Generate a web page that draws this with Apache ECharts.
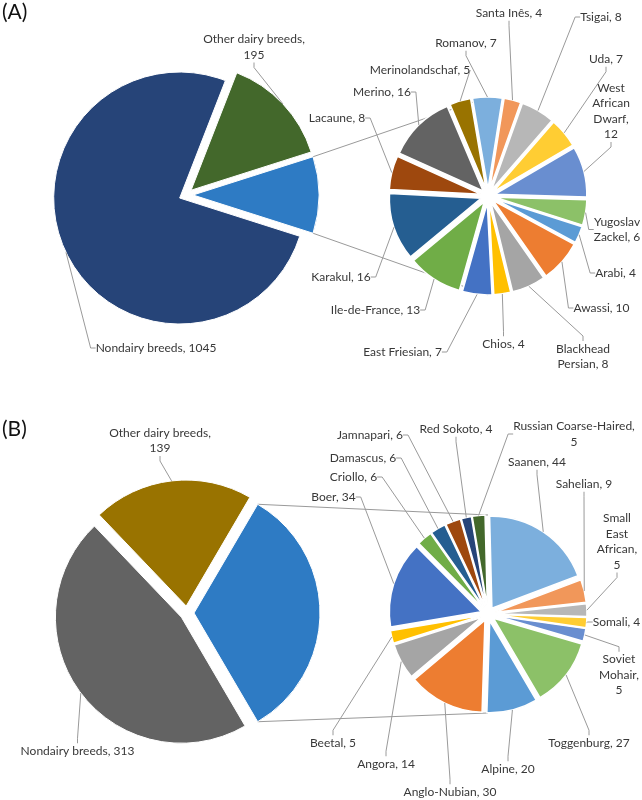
<!DOCTYPE html>
<html><head><meta charset="utf-8">
<script src="https://cdn.jsdelivr.net/npm/echarts@6/dist/echarts.min.js"></script>
<style>html,body{margin:0;padding:0;background:#fff}#c{width:642px;height:800px}</style>
</head><body><div id="c"></div>
<script>
// ---------------- DATA ----------------
// Panel (A)
const mainCatsA = ['Other dairy breeds', 'Selected dairy breeds', 'Nondairy breeds'];
const otherDairyA = 195;
const nondairyA = 1045;
const breedsA = ['Arabi', 'Awassi', 'Blackhead Persian', 'Chios', 'East Friesian', 'Ile-de-France', 'Karakul', 'Lacaune', 'Merino', 'Merinolandschaf', 'Romanov', 'Santa Inês', 'Tsigai', 'Uda', 'West African Dwarf', 'Yugoslav Zackel'];
const countsA = [4, 10, 8, 4, 7, 13, 16, 8, 16, 5, 7, 4, 8, 7, 12, 6];
// Panel (B)
const mainCatsB = ['Other dairy breeds', 'Selected dairy breeds', 'Nondairy breeds'];
const otherDairyB = 139;
const nondairyB = 313;
const breedsB = ['Alpine', 'Anglo-Nubian', 'Angora', 'Beetal', 'Boer', 'Criollo', 'Damascus', 'Jamnapari', 'Red Sokoto', 'Russian Coarse-Haired', 'Saanen', 'Sahelian', 'Small East African', 'Somali', 'Soviet Mohair', 'Toggenburg'];
const countsB = [20, 30, 14, 5, 34, 6, 6, 6, 4, 5, 44, 9, 5, 4, 5, 27];

// ---------------- STYLE / LAYOUT ----------------
const mainColorsA = ['#43682B', '#2E7BC4', '#264478'];
const smallColorsA = ['#5B9BD5', '#ED7D31', '#A5A5A5', '#FFC000', '#4472C4', '#70AD47', '#255E91', '#9E480E', '#636363', '#997300', '#7CAFDD', '#F1975A', '#B7B7B7', '#FFCD33', '#698ED0', '#8CC168'];
const mainColorsB = ['#997300', '#2E7BC4', '#636363'];
const smallColorsB = ['#5B9BD5', '#ED7D31', '#A5A5A5', '#FFC000', '#4472C4', '#70AD47', '#255E91', '#9E480E', '#264478', '#43682B', '#7CAFDD', '#F1975A', '#B7B7B7', '#FFCD33', '#698ED0', '#8CC168'];

// label text wrapping (text templates)
const wraps = {
  'Other dairy breeds': 'Other dairy breeds,\n{v}',
  'West African Dwarf': 'West\nAfrican\nDwarf,\n{v}',
  'Yugoslav Zackel': 'Yugoslav\nZackel, {v}',
  'Blackhead Persian': 'Blackhead\nPersian, {v}',
  'Russian Coarse-Haired': 'Russian Coarse-Haired,\n{v}',
  'Small East African': 'Small\nEast\nAfrican,\n{v}',
  'Soviet Mohair': 'Soviet\nMohair,\n{v}'
};

// label placement: offset of the text centre from the pie centre
const labelOffsetMainA = { 'Other dairy breeds': [68, -148], 'Nondairy breeds': [-30, 153] };
const labelOffsetSmallA = {
  'Arabi': [127.5, 77], 'Awassi': [113.5, 112], 'Blackhead Persian': [95, 160.5], 'Chios': [15.5, 148],
  'East Friesian': [-85.5, 156], 'Ile-de-France': [-112.5, 114], 'Karakul': [-147, 81], 'Lacaune': [-151, -78],
  'Merino': [-106, -104], 'Merinolandschaf': [-68, -126], 'Romanov': [-22, -153], 'Santa Inês': [21, -183],
  'Tsigai': [113, -179], 'Uda': [118, -137], 'West African Dwarf': [123, -85], 'Yugoslav Zackel': [129, 33.5]
};
const labelOffsetMainB = { 'Other dairy breeds': [-27, -172.5], 'Nondairy breeds': [-109.5, 138] };
const labelOffsetSmallB = {
  'Alpine': [20, 155], 'Anglo-Nubian': [-38, 178], 'Angora': [-102, 150], 'Beetal': [-155, 129],
  'Boer': [-154.5, -117], 'Criollo': [-134.5, -137], 'Damascus': [-125, -156], 'Jamnapari': [-118, -179],
  'Red Sokoto': [-32, -185], 'Russian Coarse-Haired': [86, -180], 'Saanen': [49, -152], 'Sahelian': [96, -130],
  'Small East African': [129, -72.5], 'Somali': [128.5, 8], 'Soviet Mohair': [131, 61], 'Toggenburg': [101, 129]
};

const geom = {
  A: { main: [186, 195], small: [488, 196] },
  B: { main: [187, 613], small: [488, 614] }
};
const mainR = 126, mainOffset = 7;
const smallR = 92, smallOffset = 7;

const FONT = 'Lato, "Open Sans", sans-serif';
const labelColor = '#383838';
const lineColor = '#9a9a9a';

// ---------------- BUILD ----------------
const sum = a => a.reduce((s, v) => s + v, 0);

function labelFormatter(p) {
  const t = wraps[p.name] || '{n}, {v}';
  return t.replace('{n}', p.name).replace('{v}', p.value);
}

function makeLayout(center, offsets, names) {
  return function (p) {
    const o = offsets[names[p.dataIndex]];
    if (!o) return {};
    return { x: center[0] + o[0], y: center[1] + o[1], align: 'center', verticalAlign: 'middle' };
  };
}

// visible, exploded slices (no labels)
function sliceSeries(center, r, offset, startAngle, names, values, colors, bw) {
  return {
    type: 'pie', center: center, radius: r, startAngle: startAngle, clockwise: true,
    selectedMode: 'multiple', selectedOffset: offset,
    animation: false, silent: true, emphasis: { disabled: true }, z: 2,
    itemStyle: { borderColor: '#fff', borderWidth: bw },
    label: { show: false }, labelLine: { show: false },
    data: names.map((n, i) => ({ name: n, value: values[i], selected: true, itemStyle: { color: colors[i] } }))
  };
}

// label carrier (same data, invisible sectors at the exploded outer radius)
function labelSeries(center, r, offset, startAngle, names, values, labelOffsets, hiddenLabelIdx) {
  return {
    type: 'pie', center: center, radius: r + offset, startAngle: startAngle, clockwise: true,
    selectedMode: false, avoidLabelOverlap: false,
    animation: false, silent: true, emphasis: { disabled: true }, z: 3,
    itemStyle: { color: 'rgba(0,0,0,0)', borderWidth: 0 },
    label: {
      show: true, position: 'outside', alignTo: 'none', formatter: labelFormatter,
      color: labelColor, fontFamily: FONT, fontSize: 12, lineHeight: 15.5
    },
    labelLine: { show: true, length: 8, length2: 5, smooth: false, lineStyle: { color: lineColor, width: 1 } },
    labelLayout: makeLayout(center, labelOffsets, names),
    data: names.map((n, i) => {
      const d = { name: n, value: values[i] };
      if (i === hiddenLabelIdx) { d.label = { show: false }; d.labelLine = { show: false }; }
      return d;
    })
  };
}

function panel(key, mainCats, otherDairy, nondairy, breeds, counts, mainColors, smallColors, offMain, offSmall) {
  const g = geom[key];
  const grouped = sum(counts);
  const total = otherDairy + grouped + nondairy;
  const half = 180 * grouped / total;            // half-angle of the grouped slice
  const otherAng = 360 * otherDairy / total;
  const mainVals = [otherDairy, grouped, nondairy];
  const mainStart = half + otherAng, smallStart = 360 - half;
  const series = [
    sliceSeries(g.main, mainR, mainOffset, mainStart, mainCats, mainVals, mainColors, 1),
    sliceSeries(g.small, smallR, smallOffset, smallStart, breeds, counts, smallColors, 1.5),
    labelSeries(g.main, mainR, mainOffset, mainStart, mainCats, mainVals, offMain, 1),
    labelSeries(g.small, smallR, smallOffset, smallStart, breeds, counts, offSmall, -1)
  ];
  // connector lines from the grouped slice's outer corners to the secondary pie
  const rad = half * Math.PI / 180;
  const cx = g.main[0] + mainOffset, cy = g.main[1];
  const topCorner = [cx + mainR * Math.cos(rad), cy - mainR * Math.sin(rad)];
  const botCorner = [cx + mainR * Math.cos(rad), cy + mainR * Math.sin(rad)];
  const reach = smallR + smallOffset;
  const lines = [
    { type: 'line', z: 0, shape: { x1: topCorner[0], y1: topCorner[1], x2: g.small[0], y2: g.small[1] - reach }, style: { stroke: lineColor, lineWidth: 1 } },
    { type: 'line', z: 0, shape: { x1: botCorner[0], y1: botCorner[1], x2: g.small[0], y2: g.small[1] + reach }, style: { stroke: lineColor, lineWidth: 1 } }
  ];
  return { series, lines };
}

const pA = panel('A', mainCatsA, otherDairyA, nondairyA, breedsA, countsA, mainColorsA, smallColorsA, labelOffsetMainA, labelOffsetSmallA);
const pB = panel('B', mainCatsB, otherDairyB, nondairyB, breedsB, countsB, mainColorsB, smallColorsB, labelOffsetMainB, labelOffsetSmallB);

const chart = echarts.init(document.getElementById('c'), null, { renderer: 'canvas', devicePixelRatio: 1 });
chart.setOption({
  backgroundColor: '#fff',
  animation: false,
  graphic: [
    { type: 'text', left: 2, top: 2, style: { text: '(A)', font: '21px ' + FONT, fill: '#111' } },
    { type: 'text', left: 2, top: 419, style: { text: '(B)', font: '21px ' + FONT, fill: '#111' } }
  ].concat(pA.lines, pB.lines),
  series: pA.series.concat(pB.series)
});
</script>
</body></html>
